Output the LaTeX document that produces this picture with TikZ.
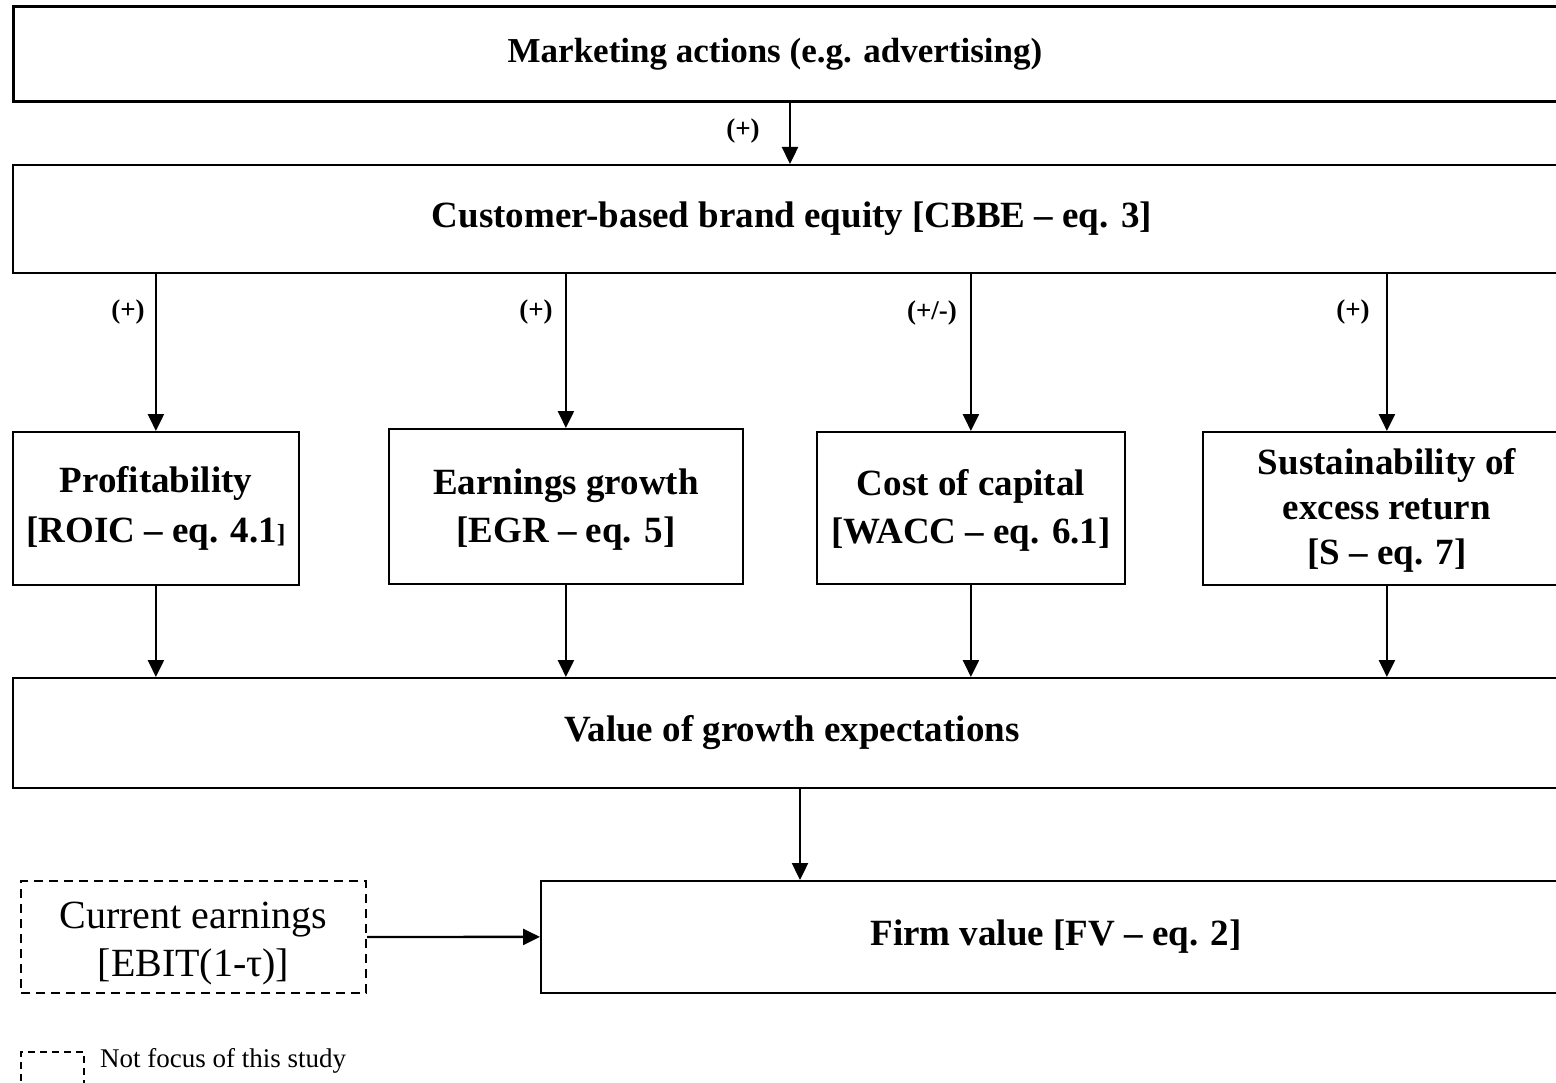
\documentclass[tikz,border=0pt]{standalone}
\usepackage{fontspec}
\setmainfont{Liberation Serif}
\usetikzlibrary{arrows.meta}
\begin{document}
\begin{tikzpicture}[x=1pt,y=-1pt,
  box/.style={draw, line width=1.8pt, inner sep=0pt, align=center, anchor=north west,
    font=\bfseries\fontsize{37}{48}\selectfont},
  dbox/.style={draw, line width=2pt, dash pattern=on 9pt off 6pt, inner sep=0pt, align=center,
    anchor=north west, font=\fontsize{40}{48}\selectfont},
  bigtxt/.style={font=\bfseries\fontsize{35}{44}\selectfont},
  arr/.style={line width=2.4pt, -{Triangle[length=17pt,width=16pt]}},
  sign/.style={font=\bfseries\fontsize{27}{30}\selectfont}]
\useasboundingbox (0,0) rectangle (1556,1083);
\clip (0,0) rectangle (1556,1083);

% boxes
\node[box, line width=3pt, minimum width=1558pt, minimum height=95pt] (mkt) at (12,5) {};
\node[bigtxt] (mkttxt) at (775,54) {Marketing actions (e.g. advertising)};
\node[box, minimum width=1558pt, minimum height=108pt] (cbbe) at (12,164) {Customer-based brand equity [CBBE – eq. 3]};
\node[box, font=\bfseries\fontsize{37}{50}\selectfont, minimum width=286pt, minimum height=153pt] (prof) at (12,431) {Profitability\\{}[ROIC – eq. 4.1{\fontsize{26}{30}\selectfont]}};
\node[box, minimum width=354pt, minimum height=155pt] (earn) at (388,428) {\rule{0pt}{32pt}Earnings growth\\{}[EGR – eq. 5]};
\node[box, minimum width=308pt, minimum height=152pt] (cost) at (816,431) {\rule{0pt}{32pt}Cost of capital\\{}[WACC – eq. 6.1]};
\node[box, font=\bfseries\fontsize{37}{45}\selectfont, minimum width=368pt, minimum height=153pt] (sust) at (1202,431) {\rule{0pt}{30pt}Sustainability of\\excess return\\{}[S – eq. 7]};
\node[box, minimum width=1558pt, minimum height=110pt] (vge) at (12,677) {Value of growth expectations};
\node[box, minimum width=1030pt, minimum height=112pt] (fv) at (540,880) {Firm value [FV – eq. 2]};
\node[dbox, minimum width=345pt, minimum height=112pt] (cur) at (20,880) {\rule{0pt}{40pt}Current earnings\\{}[EBIT(1-τ)]};
\node[dbox, line width=1.5pt, dash pattern=on 7pt off 5pt, minimum width=63pt, minimum height=32pt] (leg) at (20,1051) {};
\node[anchor=west, inner sep=0pt, font=\fontsize{27}{30}\selectfont] (legtxt) at (100,1061) {Not focus of this study};

% helper x positions
\coordinate (x1) at (790,0);
\coordinate (x2) at (800,0);

% connectors
\draw[arr] (mkt.south -| x1) -- (cbbe.north -| x1);
\node[sign] (s0) at (743,131) {(+)};
\draw[arr] (cbbe.south -| prof.north) -- (prof.north);
\draw[arr] (cbbe.south -| earn.north) -- (earn.north);
\draw[arr] (cbbe.south -| cost.north) -- (cost.north);
\draw[arr] (cbbe.south -| sust.north) -- (sust.north);
\node[sign] (s1) at (128,312) {(+)};
\node[sign] (s2) at (536,312) {(+)};
\node[sign] (s3) at (932,313) {(+/-)};
\node[sign] (s4) at (1353,312) {(+)};
\draw[arr] (prof.south) -- (vge.north -| prof.south);
\draw[arr] (earn.south) -- (vge.north -| earn.south);
\draw[arr] (cost.south) -- (vge.north -| cost.south);
\draw[arr] (sust.south) -- (vge.north -| sust.south);
\draw[arr] (vge.south -| x2) -- (fv.north -| x2);
\draw[arr] (cur.east) -- (fv.west);
\end{tikzpicture}
\end{document}
